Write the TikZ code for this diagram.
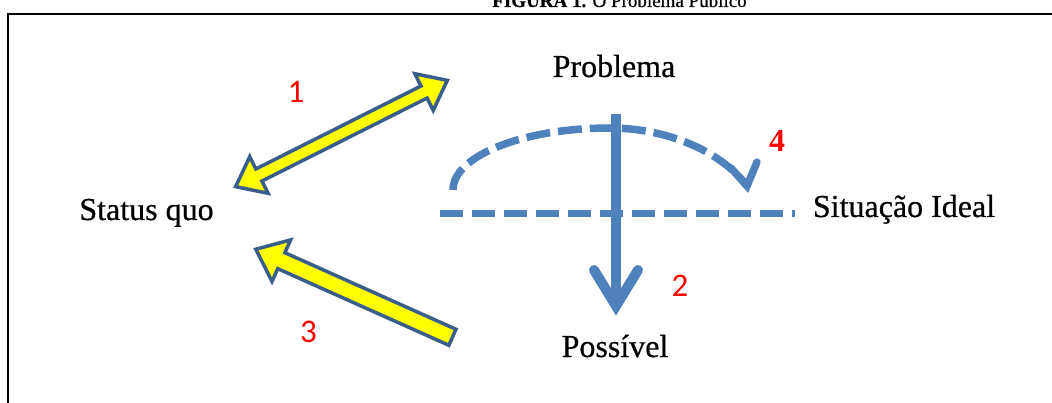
\documentclass[tikz,border=0pt]{standalone}
\usepackage{fontspec}
\setmainfont{Liberation Serif}
\newfontfamily\lblfont{Liberation Serif}[FakeBold=0.6]
\newfontfamily\numfont{Carlito}
\usetikzlibrary{calc}
\definecolor{arrowyellow}{HTML}{FFFF00}
\definecolor{arrowedge}{HTML}{3A5E8C}
\definecolor{lineblue}{HTML}{4F81BD}
\definecolor{numred}{HTML}{FF0000}
\begin{document}
\begin{tikzpicture}[x=1pt,y=-1pt,
  lbl/.style={inner sep=0pt, anchor=base, font=\lblfont\fontsize{32}{38}\selectfont},
  num/.style={inner sep=0pt, anchor=base, text=numred, font=\numfont\fontsize{33}{40}\selectfont},
  blockarrow/.style={draw=arrowedge, fill=arrowyellow, line width=3.5pt, line join=miter},
  bluedash/.style={draw=lineblue, line width=7pt, dash pattern=on 23pt off 9pt},
  bluearc/.style={draw=lineblue, line width=7.5pt, dash pattern=on 24pt off 8pt},
  bluesolid/.style={draw=lineblue, line width=10pt},
  framestyle/.style={draw=black, line width=2pt}]
\useasboundingbox (0,0) rectangle (1052,403);

% title (cut off by the top edge, as in the reference)
\node[inner sep=0pt, anchor=base, font=\lblfont\fontsize{19}{22}\selectfont] (title) at (619.5,7) {\textbf{FIGURA 1.} O Problema Público};

% frame
\draw[framestyle] (7.7,403) -- (7.7,13.7) -- (1052,13.7);

% text nodes
\node[lbl] (problema) at (614,77) {Problema};
\node[lbl] (status) at (146.5,220) {Status quo};
\node[lbl] (situacao) at (904,217) {Situação Ideal};
\node[lbl] (possivel) at (615,357) {Possível};

% numbers
\node[num] (n1) at (296,103) {1};
\node[num] (n2) at (680,297) {2};
\node[num] (n3) at (308.5,342) {3};
\node[inner sep=0pt, anchor=base, text=numred, font=\bfseries\fontsize{32}{38}\selectfont] (n4) at (777,152) {4};

% arrow 1 (double block arrow)
\coordinate (a1s) at (233,188);
\coordinate (a1e) at (450,79);
\begin{scope}[shift={(a1s)}, rotate=26.67]
  \draw[blockarrow] (3,0) -- (29,20.5) -- (29,6.75) -- (213.8,6.75) -- (213.8,20.5)
    -- (239.8,0) -- (213.8,-20.5) -- (213.8,-6.75) -- (29,-6.75) -- (29,-20.5) -- cycle;
\end{scope}

% arrow 3 (single block arrow)
\coordinate (a3tail) at (454,338);
\coordinate (a3tip) at (253,248);
\begin{scope}[shift={(a3tail)}, rotate=155.88]
  \draw[blockarrow] (1.75,8.75) -- (189.2,8.75) -- (189.2,22.75) -- (217.2,0)
    -- (189.2,-22.75) -- (189.2,-8.75) -- (1.75,-8.75) -- cycle;
\end{scope}

% horizontal dashed line
\coordinate (hL) at (440,213.5);
\coordinate (hR) at (795,213.5);
\draw[bluedash] (hL) -- (hR);

% dashed arc with open head (4)
\coordinate (arcL) at (453,190);
\coordinate (arcT) at (610,128);
\coordinate (arcR) at (747,186);
\draw[bluearc] (arcL) .. controls (453,156) and (523,128) .. (arcT)
  .. controls (665,128) and (720,150) .. (arcR);
\draw[draw=lineblue, line width=7.5pt, line cap=round, line join=miter] (731,168) -- (arcR) -- (757,162);

% vertical arrow (2)
\coordinate (v2top) at (616,114);
\coordinate (v2tip) at (616,306);
\draw[bluesolid] (v2top) -- (v2tip);
\draw[bluesolid, line cap=round, line join=miter] (594,270) -- (v2tip) -- (638,270);
\end{tikzpicture}
\end{document}
